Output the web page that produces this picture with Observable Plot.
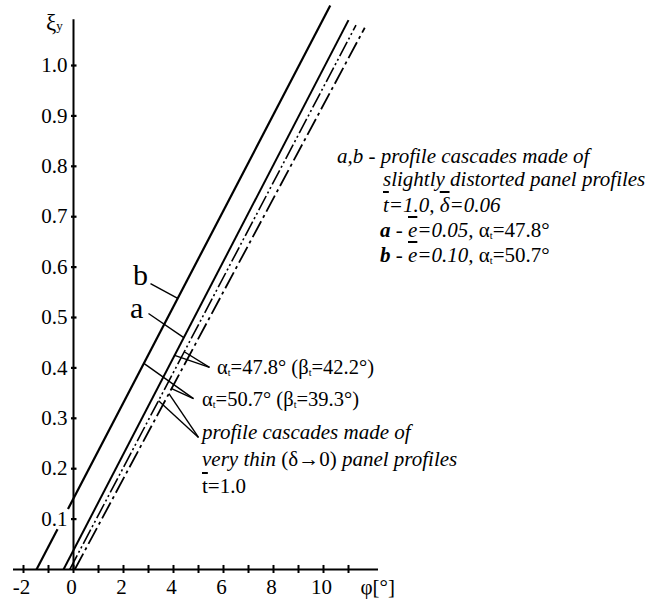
<!DOCTYPE html>
<html><head><meta charset="utf-8">
<script src="https://cdn.jsdelivr.net/npm/d3@7"></script>
<script src="https://cdn.jsdelivr.net/npm/@observablehq/plot@0.6"></script>
<style>
body{margin:0;background:#fff;}
#wrap{position:relative;width:649px;height:601px;font-family:"Liberation Serif","Tinos","Times New Roman","DejaVu Serif",serif;color:#000;}
.t{position:absolute;white-space:nowrap;}
.ob{text-decoration:overline;}
.sb{font-size:0.5em;vertical-align:-0.15em;}
</style></head><body><div id="wrap"></div>
<script>
// ---- data ----
const series   = ["b", "a", "thin α=47.8°", "thin α=50.7°"];
const phiStart = [-1.48, -0.40, -0.15, 0.05];
const xiStart  = [0, 0, 0, 0];
const phiEnd   = [10.27, 11.0, 11.3, 11.65];
const xiEnd    = [1.119, 1.09, 1.08, 1.075];
const gapB     = [0.08, 0.12];            // break in line b near the 0.1 label
const yTicks   = [0.1,0.2,0.3,0.4,0.5,0.6,0.7,0.8,0.9,1.0];
const xTicks   = [-2,-1,0,1,2,3,4,5,6,7,8,9,10,11];
const xLabels  = [-2,0,2,4,6,8,10];

// ---- helpers ----
const phiAt = (i, xi) => phiStart[i] + (phiEnd[i]-phiStart[i])*(xi-xiStart[i])/(xiEnd[i]-xiStart[i]);

const segs = series.map((s,i)=>({s, i, x1:phiStart[i], y1:xiStart[i], x2:phiEnd[i], y2:xiEnd[i]}));
const bSegs = [
  {x1:phiStart[0], y1:xiStart[0], x2:phiAt(0,gapB[0]), y2:gapB[0]},
  {x1:phiAt(0,gapB[1]), y1:gapB[1], x2:phiEnd[0], y2:xiEnd[0]}
];

const leaderDefs = [
  {from:[3.08,0.567], to:0, at:0.538},
  {from:[3.00,0.508], to:1, at:0.460},
  {from:[5.44,0.401], to:1, at:0.425},
  {from:[5.44,0.401], to:2, at:0.432},
  {from:[4.80,0.339], to:0, at:0.409},
  {from:[4.80,0.339], to:3, at:0.359},
  {from:[5.00,0.262], to:2, at:0.335},
  {from:[5.00,0.262], to:3, at:0.349}
];
const leaders = leaderDefs.map(d=>({x1:d.from[0], y1:d.from[1], x2:phiAt(d.to,d.at), y2:d.at}));

const FONT = '"Liberation Serif", Tinos, "Times New Roman", "DejaVu Serif", serif';
const chart = Plot.plot({
  width:649, height:601, margin:0,
  style:{fontFamily:FONT, fontSize:"21px", background:"white", color:"black"},
  x:{domain:[-2.92, 23.04], axis:null},
  y:{domain:[-0.0635, 1.129], axis:null},
  marks:[
    Plot.ruleY([0], {x1:-2.4, x2:12.2, stroke:"black", strokeWidth:2}),
    Plot.ruleX([0], {y1:0, y2:1.091, stroke:"black", strokeWidth:2}),
    Plot.ruleY(yTicks, {x1:-0.08, x2:0.14, stroke:"black", strokeWidth:2.2}),
    Plot.ruleX(xTicks, {y1:-0.008, y2:0.008, stroke:"black", strokeWidth:2}),
    Plot.text(yTicks, {x:-0.24, y:d=>d, text:d=>d3.format(".1f")(d), textAnchor:"end", fontSize:21, fontFamily:FONT}),
    Plot.text(xLabels, {x:d=>d, y:-0.0347, text:d=>String(d), textAnchor:"middle", dx:-2, fontSize:21, fontFamily:FONT}),
    Plot.text(["φ[°]"], {x:11.48, y:-0.0347, text:d=>d, textAnchor:"start", fontSize:21, fontFamily:FONT}),
    Plot.link(bSegs, {x1:"x1", y1:"y1", x2:"x2", y2:"y2", stroke:"black", strokeWidth:2.2}),
    Plot.link(segs.filter(d=>d.i===1), {x1:"x1", y1:"y1", x2:"x2", y2:"y2", stroke:"black", strokeWidth:2}),
    Plot.link(segs.filter(d=>d.i===2), {x1:"x1", y1:"y1", x2:"x2", y2:"y2", stroke:"black", strokeWidth:1.6, strokeDasharray:"16,3,2,3,2,3"}),
    Plot.link(segs.filter(d=>d.i===3), {x1:"x1", y1:"y1", x2:"x2", y2:"y2", stroke:"black", strokeWidth:1.8, strokeDasharray:"18,4,3,4"}),
    Plot.link(leaders, {x1:"x1", y1:"y1", x2:"x2", y2:"y2", stroke:"black", strokeWidth:1.4})
  ]
});
const wrap = document.getElementById("wrap");
wrap.appendChild(chart);

function put(html, left, baseline, size){
  const d = document.createElement("div");
  d.className = "t";
  d.style.left = left+"px";
  d.style.top = (baseline - 0.8375*size)+"px";
  d.style.fontSize = size+"px";
  d.style.lineHeight = size+"px";
  d.innerHTML = html;
  wrap.appendChild(d);
}
put('ξ<span style="font-size:13px">y</span>', 46, 30, 23);
put('b', 133, 285, 30);
put('a', 130, 318, 30);
put('<i>a,b - profile cascades made of</i>', 337, 164, 21);
put('<i>slightly distorted panel profiles</i>', 383, 187, 21);
put('<i><span class="ob">t</span>=1.0, <span class="ob">δ</span>=0.06</i>', 383, 213, 21);
put('<b><i>a</i></b> - <i><span class="ob">e</span>=0.05,</i> α<span class="sb">t</span>=47.8°', 380, 238, 21);
put('<b><i>b</i></b> - <i><span class="ob">e</span>=0.10,</i> α<span class="sb">t</span>=50.7°', 380, 263, 21);
put('α<span class="sb">t</span>=47.8° (β<span class="sb">t</span>=42.2°)', 217, 374, 20.5);
put('α<span class="sb">t</span>=50.7° (β<span class="sb">t</span>=39.3°)', 202, 406, 20.5);
put('<i>profile cascades made of</i>', 202, 440, 21);
put('<i>very thin</i> (δ→0) <i>panel profiles</i>', 202, 467, 21);
put('<span class="ob">t</span>=1.0', 202, 494, 21);
</script></body></html>
